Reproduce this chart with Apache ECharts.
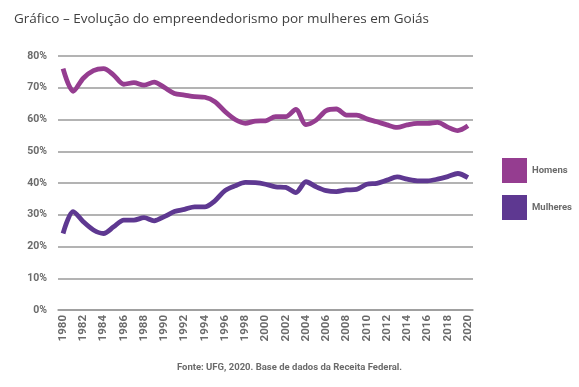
<!DOCTYPE html>
<html>
<head>
<meta charset="utf-8">
<script src="https://cdn.jsdelivr.net/npm/echarts@6/dist/echarts.min.js"></script>
<style>
html,body{margin:0;padding:0;background:#fff;}
#c{width:579px;height:387px;}
</style>
</head>
<body>
<div id="c"></div>
<script>
const years = ['1980','1981','1982','1983','1984','1985','1986','1987','1988','1989','1990','1991','1992','1993','1994','1995','1996','1997','1998','1999','2000','2001','2002','2003','2004','2005','2006','2007','2008','2009','2010','2011','2012','2013','2014','2015','2016','2017','2018','2019','2020'];
const homens = [76.0,68.9,73.0,75.4,76.0,74.0,71.1,71.6,70.8,71.8,70.1,68.2,67.7,67.2,67.0,65.6,62.5,60.0,58.8,59.5,59.6,60.9,60.9,63.2,58.4,59.8,62.8,63.3,61.4,61.4,60.2,59.3,58.3,57.5,58.3,58.8,58.8,59.1,57.6,56.5,58.0];
const mulheres = [24.1,31.0,27.8,25.2,24.1,26.2,28.3,28.3,29.1,28.1,29.4,31.0,31.7,32.5,32.5,34.4,37.6,39.1,40.2,40.1,39.6,38.8,38.6,37.0,40.4,38.8,37.6,37.3,37.8,38.0,39.6,39.9,40.9,41.9,41.2,40.7,40.7,41.2,42.0,43.0,41.7];
const yTicks = [0,10,20,30,40,50,60,70,80];

const chart = echarts.init(document.getElementById('c'), null, {renderer:'canvas'});
chart.setOption({
  animation:false,
  backgroundColor:'#fff',
  title:{
    text:'Gráfico – Evolução do empreendedorismo por mulheres em Goiás',
    left:9, top:7,
    textStyle:{fontFamily:'Open Sans', fontSize:13.5, fontWeight:'normal', color:'#404040'}
  },
  graphic:[{
    type:'text', left:'center', top:363,
    style:{text:'Fonte: UFG, 2020. Base de dados da Receita Federal.', font:'bold 9.5px Roboto', fill:'#6b6b6b', x:0}
  }],
  legend:{
    orient:'vertical', left:497, top:153, itemWidth:25, itemHeight:25, itemGap:12,
    icon:'rect',
    textStyle:{fontFamily:'Roboto', fontSize:9.5, fontWeight:'bold', color:'#6b6b6b', padding:[4,0,0,0]},
    data:['Homens','Mulheres']
  },
  grid:{left:58, right:106, top:56, bottom:77, containLabel:false},
  xAxis:{
    type:'category', data:years, boundaryGap:true,
    axisLine:{show:true, lineStyle:{color:'#9a9a9a', width:1.5}},
    axisTick:{show:false},
    axisLabel:{interval:1, rotate:90, margin:5, fontFamily:'Roboto', fontSize:11.5, fontWeight:'bold', color:'#6b6b6b'}
  },
  yAxis:{
    type:'value', min:0, max:80, interval:10,
    axisLine:{show:false}, axisTick:{show:false},
    axisLabel:{margin:11, fontFamily:'Roboto', fontSize:10.5, fontWeight:'bold', color:'#6b6b6b', formatter:v=>v+'%'},
    splitLine:{lineStyle:{color:'#9a9a9a', width:1.5}}
  },
  series:[
    {name:'Homens', type:'line', data:homens, smooth:0.3, symbol:'none', color:'#953D90',
     lineStyle:{width:4.8, color:'#953D90'}},
    {name:'Mulheres', type:'line', data:mulheres, smooth:0.3, symbol:'none', color:'#5E3891',
     lineStyle:{width:4.8, color:'#5E3891'}}
  ]
});
</script>
</body>
</html>
